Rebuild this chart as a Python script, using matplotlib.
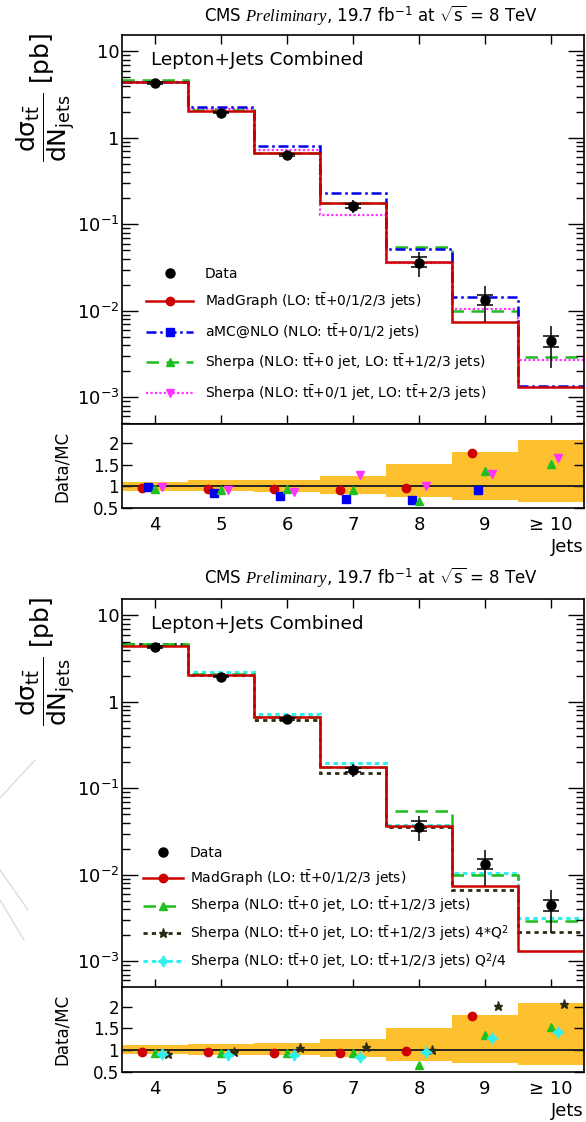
import numpy as np
import matplotlib.pyplot as plt
from matplotlib.lines import Line2D
from matplotlib.ticker import FixedLocator, FuncFormatter, LogLocator, NullFormatter, NullLocator

plt.rcParams['font.family'] = ['DejaVu Sans']
plt.rcParams['mathtext.fontset'] = 'custom'
plt.rcParams['mathtext.rm'] = 'DejaVu Sans'
plt.rcParams['mathtext.sf'] = 'DejaVu Sans'
plt.rcParams['mathtext.it'] = 'Liberation Serif:italic'

# jet multiplicity bins
n_jets = [4, 5, 6, 7, 8, 9, 10]
jet_labels = ['4', '5', '6', '7', '8', '9', '≥ 10']

# measured cross section [pb] with total and stat. uncertainties
data = [4.30, 1.96, 0.635, 0.164, 0.036, 0.0134, 0.00446]
data_tot_lo = [4.02, 1.84, 0.575, 0.135, 0.0245, 0.0075, 0.00215]
data_tot_hi = [4.60, 2.09, 0.700, 0.191, 0.0478, 0.0195, 0.0067]
data_stat_lo = [4.20, 1.92, 0.620, 0.155, 0.0319, 0.0116, 0.00386]
data_stat_hi = [4.40, 2.00, 0.650, 0.174, 0.0418, 0.0152, 0.00513]

# relative data uncertainty band for the ratio panel
band_lo = [0.90, 0.89, 0.88, 0.83, 0.75, 0.69, 0.65]
band_hi = [1.11, 1.14, 1.15, 1.25, 1.52, 1.81, 2.08]

# predictions [pb]
madgraph = [4.48, 2.06, 0.675, 0.178, 0.0371, 0.00750, 0.00130]
amcnlo = [4.39, 2.28, 0.814, 0.231, 0.0522, 0.0145, 0.00136]
sherpa = [4.62, 2.11, 0.675, 0.178, 0.0545, 0.00990, 0.00293]
sherpa_01 = [4.39, 2.15, 0.720, 0.129, 0.0353, 0.0104, 0.00270]
sherpa_4q2 = [4.73, 2.06, 0.610, 0.152, 0.0360, 0.00660, 0.00217]
sherpa_q2_4 = [4.73, 2.20, 0.720, 0.195, 0.0375, 0.0105, 0.00314]

TT = r'$\mathrm{t\bar{t}}$'
lab_mg = 'MadGraph (LO: ' + TT + '+0/1/2/3 jets)'
lab_amc = 'aMC@NLO (NLO: ' + TT + '+0/1/2 jets)'
lab_sh = 'Sherpa (NLO: ' + TT + '+0 jet, LO: ' + TT + '+1/2/3 jets)'
lab_sh01 = 'Sherpa (NLO: ' + TT + '+0/1 jet, LO: ' + TT + '+2/3 jets)'
lab_4q2 = lab_sh + r' 4*Q$^2$'
lab_q24 = lab_sh + r' Q$^2$/4'

# (values, label, color, dashes, linewidth, marker, markersize, x-offset in ratio)
mg = (madgraph, lab_mg, '#cc0000', None, 1.8, 'o', 6.0, -0.2)
amc = (amcnlo, lab_amc, '#0000ee', (4, 1.5, 1, 1.5), 1.8, 's', 5.5, -0.1)
sh = (sherpa, lab_sh, '#1fbf1f', (5, 3), 1.8, '^', 6.0, 0.0)
sh01 = (sherpa_01, lab_sh01, '#ff33ff', (1, 1), 1.6, 'v', 6.0, 0.1)
sh4q = (sherpa_4q2, lab_4q2, '#2b2b10', (1.5, 1.5), 2.0, '*', 6.5, 0.2)
shq4 = (sherpa_q2_4, lab_q24, '#33eeee', (1.5, 1.2), 2.2, (4, 1, 0), 8.0, 0.1)

edges = np.arange(3.5, 11.0, 1.0)
centers = np.array(n_jets, dtype=float)


def ytick_text(v, pos):
    if v >= 10:
        return '10'
    if v >= 1:
        return '1'
    return r'$\mathrm{10^{%d}}$' % int(round(np.log10(v)))


def drawPair(fig, main_rect, ratio_rect, models, header_y, leg_anchor, leg_opts):
    ax = fig.add_axes(main_rect)
    rax = fig.add_axes(ratio_rect, sharex=ax)

    d = np.array(data)
    # histograms, drawn in reverse so the first model sits on top
    for vals, lab, col, dash, lw, mk, ms, off in reversed(models):
        st = ax.stairs(vals, edges, baseline=None, color=col, lw=lw)
        if dash is not None:
            st.set_linestyle((0, dash))

    # data points: full line = total unc., caps = stat. unc.
    ax.errorbar(centers, d, yerr=[d - np.array(data_tot_lo), np.array(data_tot_hi) - d],
                fmt='none', ecolor='black', elinewidth=1.1, capsize=0)
    ax.errorbar(centers, d, yerr=[d - np.array(data_stat_lo), np.array(data_stat_hi) - d],
                fmt='o', color='black', ms=6.5, elinewidth=1.1, capsize=6, capthick=1.1)

    ax.set_yscale('log')
    ax.set_ylim(4.9e-4, 15.5)
    ax.set_xlim(3.5, 10.5)
    ax.yaxis.set_major_locator(FixedLocator([1e-3, 1e-2, 1e-1, 1, 10]))
    ax.yaxis.set_major_formatter(FuncFormatter(ytick_text))
    ax.yaxis.set_minor_locator(LogLocator(base=10, subs=np.arange(2, 10)))
    ax.yaxis.set_minor_formatter(NullFormatter())
    ax.set_xticks(n_jets)
    ax.tick_params(axis='x', which='both', direction='in', top=True, bottom=True,
                   labelbottom=False, length=6.5, width=1)
    ax.tick_params(axis='y', which='major', direction='in', left=True, right=True,
                   length=11.5, width=1, labelsize=13, pad=2)
    ax.tick_params(axis='y', which='minor', direction='in', left=True, right=True,
                   length=5.8, width=1)
    ax.xaxis.set_minor_locator(NullLocator())
    for s in ax.spines.values():
        s.set_linewidth(1.2)

    ax.text(0.063, 0.936, 'Lepton+Jets Combined', transform=ax.transAxes,
            fontsize=13.3, ha='left', va='center')

    # legend
    handles = [Line2D([], [], ls='none', marker='o', color='black', ms=6.5)]
    labels = ['Data']
    for vals, lab, col, dash, lw, mk, ms, off in models:
        h = Line2D([], [], color=col, lw=lw, marker=mk, ms=ms, mec=col, mfc=col)
        if dash is not None:
            h.set_dashes(dash)
        handles.append(h)
        labels.append(lab)
    ax.legend(handles, labels, loc='lower left', bbox_to_anchor=leg_anchor,
              frameon=False, fontsize=10, borderpad=0, borderaxespad=0,
              numpoints=1, **leg_opts)

    # ratio panel
    rax.stairs(band_hi, edges, baseline=band_lo, fill=True, color='#fdc02f', lw=0)
    rax.axhline(1.0, color='#222222', lw=1.4)
    for vals, lab, col, dash, lw, mk, ms, off in models:
        rax.plot(centers + off, d / np.array(vals), ls='none', marker=mk, ms=ms,
                 color=col, mec=col)
    rax.set_ylim(0.5, 2.45)
    rax.set_yticks([0.5, 1, 1.5, 2])
    rax.set_yticklabels(['0.5', '1', '1.5', '2'])
    rax.set_xticks(n_jets)
    rax.set_xticklabels(jet_labels)
    rax.tick_params(axis='x', which='both', direction='in', length=0, labelsize=13, pad=6)
    rax.tick_params(axis='y', direction='in', left=True, right=True, length=7,
                    width=1, labelsize=12, pad=2)
    rax.yaxis.set_minor_locator(NullLocator())
    for s in rax.spines.values():
        s.set_linewidth(1.2)
    rax.set_xlabel('Jets', fontsize=13, ha='right')
    rax.xaxis.set_label_coords(1.0, -0.36)

    fig.text(62 / 586, ratio_rect[1] + ratio_rect[3] * 0.5, 'Data/MC', rotation=90,
             fontsize=12, ha='center', va='center')
    fig.text(46 / 586, main_rect[1] + main_rect[3] + 2 / 1122,
             r'$\dfrac{\mathrm{d\sigma_{t\bar{t}}}}{\mathrm{dN_{jets}}}$ [pb]',
             rotation=90, fontsize=18, ha='center', va='top')
    fig.text(204 / 586, header_y,
             r'CMS $\mathit{Preliminary}$, 19.7 fb$^{\mathrm{-1}}$ at $\sqrt{\mathrm{s}}$ = 8 TeV',
             fontsize=12, ha='left', va='center')
    return ax, rax


def main():
    fig = plt.figure(figsize=(5.86, 11.22), dpi=100)
    L, W = 0.2082, 0.7884

    drawPair(fig, [L, 0.6221, W, 0.3467], [L, 0.5472, W, 0.0749],
             [mg, amc, sh, sh01], 1 - 15 / 1122, (0.052, 0.055),
             dict(handlelength=3.4, handletextpad=0.85, labelspacing=0.77))
    drawPair(fig, [L, 0.1194, W, 0.3467], [L, 0.0450, W, 0.0749],
             [mg, sh, sh4q, shq4], 1 - 577 / 1122, (0.045, 0.044),
             dict(handlelength=2.9, handletextpad=0.5, labelspacing=0.56))

    # faint background strokes along the left margin
    for x0, y0, x1, y1 in [(0, 798, 35, 760), (0, 870, 28, 910), (0, 900, 24, 940)]:
        fig.add_artist(Line2D([x0 / 586, x1 / 586], [1 - y0 / 1122, 1 - y1 / 1122],
                              transform=fig.transFigure, color='#dddddd', lw=1.0))

    fig.savefig('out.png', dpi=100)


if __name__ == '__main__':
    main()
